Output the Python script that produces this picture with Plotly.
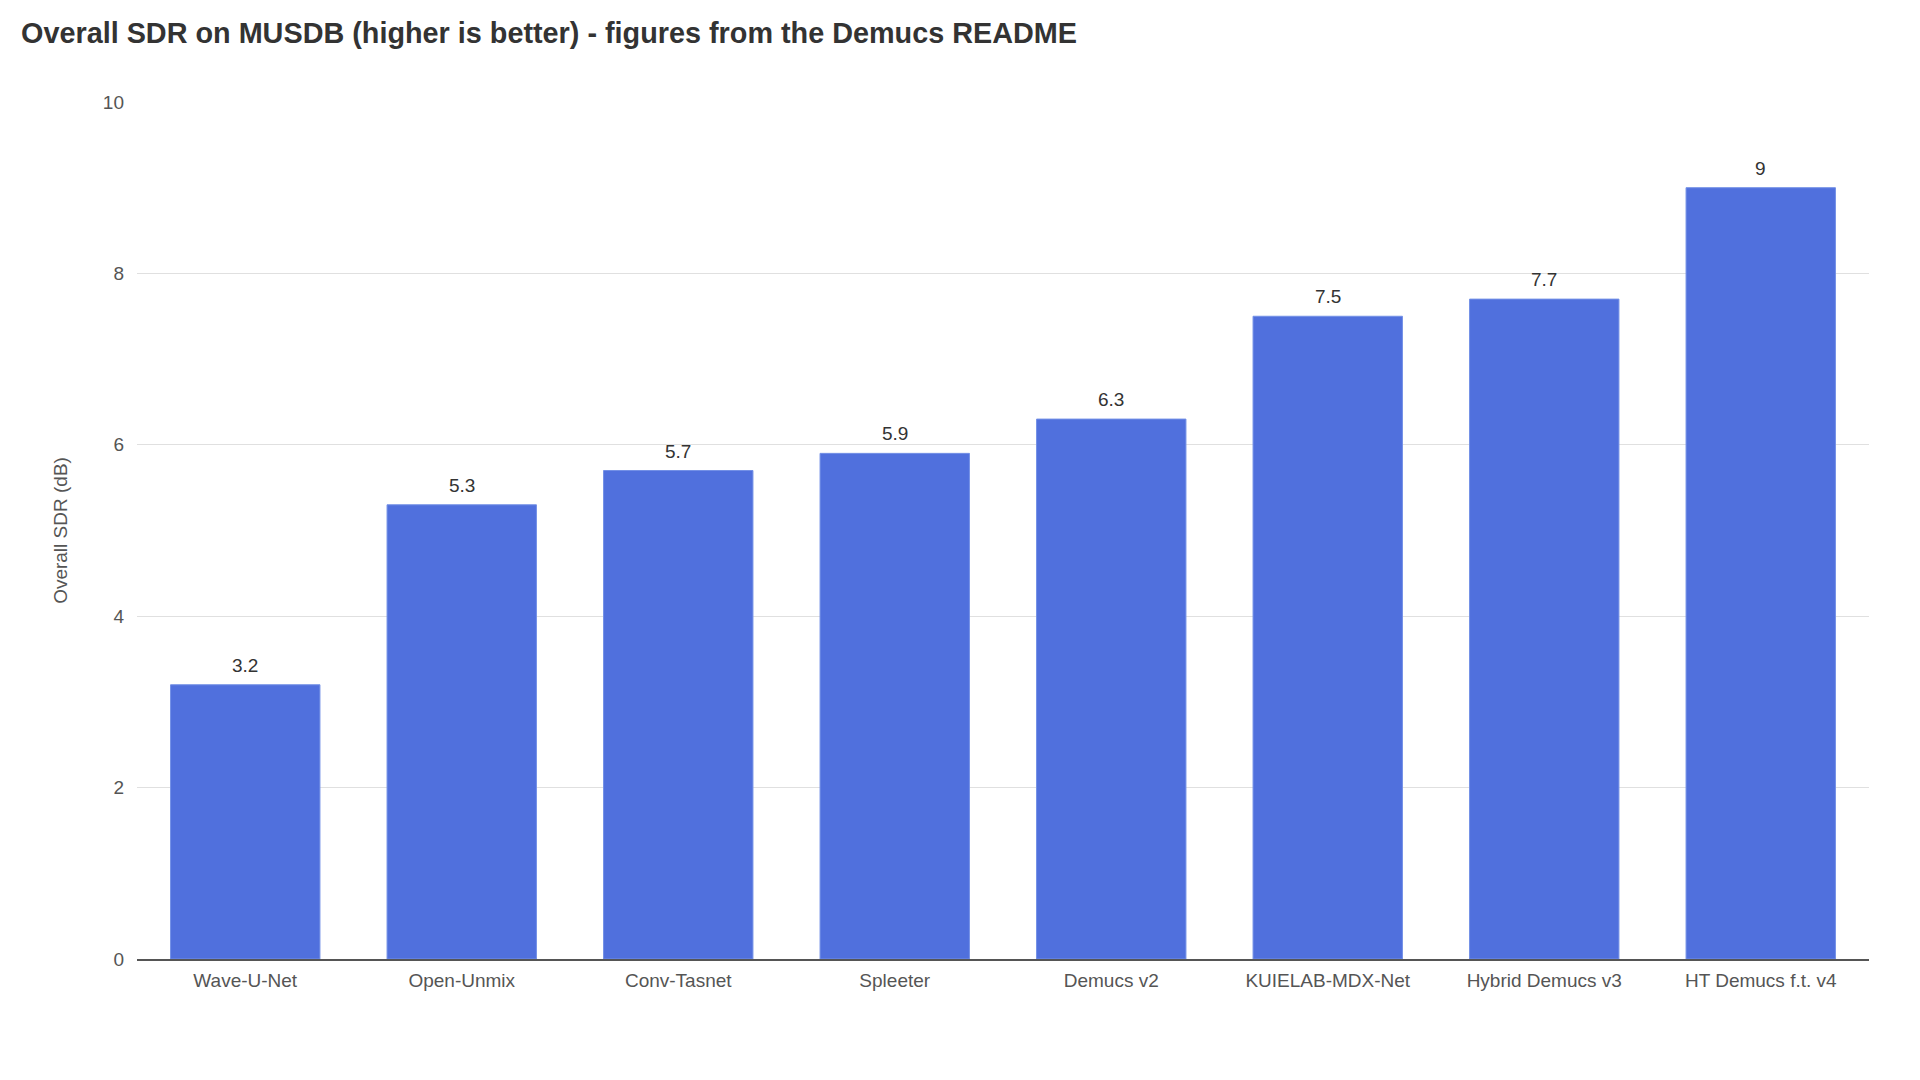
import plotly.graph_objects as go

# Overall SDR (dB) on MUSDB, as reported in the Demucs README
models = ["Wave-U-Net", "Open-Unmix", "Conv-Tasnet", "Spleeter", "Demucs v2",
          "KUIELAB-MDX-Net", "Hybrid Demucs v3", "HT Demucs f.t. v4"]
sdr = [3.2, 5.3, 5.7, 5.9, 6.3, 7.5, 7.7, 9]
y_ticks = [0, 2, 4, 6, 8, 10]

FONT = "Liberation Sans, Arial, sans-serif"

fig = go.Figure(go.Bar(
    x=models,
    y=sdr,
    marker=dict(color="#5070dd", line=dict(color="#7390e6", width=1)),
    hoverinfo="x+y",
))

# value labels above each bar
for m, v in zip(models, sdr):
    fig.add_annotation(
        x=m, y=v, text=f"{v:g}", showarrow=False,
        yanchor="bottom", yshift=7,
        font=dict(family=FONT, size=19, color="#333333"),
    )

fig.update_layout(
    width=1920,
    height=1080,
    margin=dict(l=137, r=51, t=102, b=121),
    paper_bgcolor="white",
    plot_bgcolor="white",
    font=dict(family=FONT, size=19, color="#555555"),
    bargap=0.31,
    showlegend=False,
    title=dict(
        text="<b>Overall SDR on MUSDB (higher is better) - figures from the Demucs README</b>",
        font=dict(family=FONT, size=28.8, color="#333333"),
        x=21 / 1920, xref="container", xanchor="left",
        y=1 - 33 / 1080, yref="container", yanchor="middle",
    ),
)

fig.update_xaxes(
    showline=True, linecolor="#555555", linewidth=1.5,
    showgrid=False, ticks="", ticklabelstandoff=3,
    tickfont=dict(family=FONT, size=19, color="#555555"),
)
fig.update_yaxes(
    range=[0, 10], tickvals=y_ticks,
    showgrid=True, gridcolor="#e0e0e0", gridwidth=1,
    zeroline=False, showline=False, ticks="", ticklabelstandoff=12,
    tickfont=dict(family=FONT, size=19, color="#555555"),
    title=dict(text="Overall SDR (dB)", standoff=30,
               font=dict(family=FONT, size=19, color="#555555")),
)

fig.write_html("out.html", config={"displayModeBar": False},
               post_script="document.body.style.margin='0';")
